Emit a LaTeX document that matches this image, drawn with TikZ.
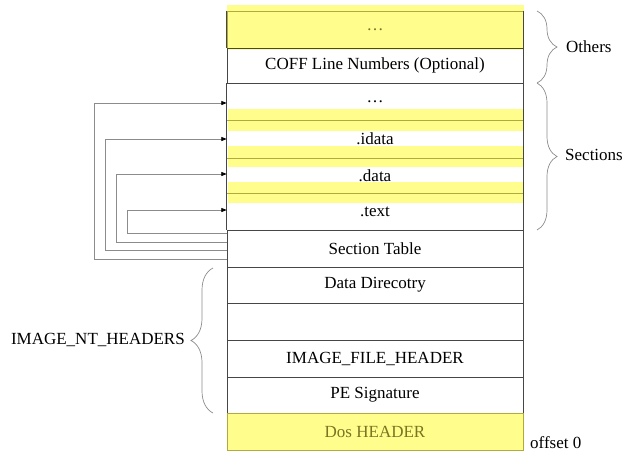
\documentclass[tikz,border=0pt]{standalone}
\usepackage{fontspec}
\setmainfont{Liberation Serif}
\usetikzlibrary{decorations.pathreplacing,arrows.meta,calc}
\definecolor{hlyellow}{RGB}{255,253,140}
\definecolor{olive}{RGB}{175,172,60}
\definecolor{olivetext}{RGB}{120,117,35}
\definecolor{boxline}{RGB}{70,70,70}
\definecolor{connline}{RGB}{140,140,140}
\begin{document}
\begin{tikzpicture}[x=1pt,y=1pt,
  every node/.style={font=\fontsize{17}{20}\selectfont},
  row/.style={draw=boxline,line width=0.8pt,rectangle,inner sep=0pt,minimum width=296pt},
  secrow/.style={rectangle,inner sep=0pt,minimum width=296pt},
  yrow/.style={draw=olive,fill=hlyellow,line width=0.8pt,rectangle,inner sep=0pt,minimum width=296pt,text=olivetext},
  band/.style={fill=hlyellow,draw=none},
  bandline/.style={draw=olive,line width=0.8pt},
  conn/.style={draw=connline,line width=0.8pt,-{Triangle[length=5.5pt,width=4pt,color=black]}},
  brc/.style={draw=connline,line width=0.7pt,decorate,decoration={brace,amplitude=20pt}},
  lbl/.style={inner sep=0pt}
]
\useasboundingbox (0,0) rectangle (624,-453);

% yellow backgrounds
\fill[band] (227,-5) rectangle (524,-50);
\fill[band] (228,-109) rectangle (524,-131);
\fill[band] (228,-146) rectangle (524,-167);
\fill[band] (228,-182) rectangle (524,-203);

% rows
\node[yrow,minimum height=37pt,fill=none] (oth) at (375,-29.5) {\ldots};
\draw[boxline,line width=0.8pt] (oth.north west) -- (oth.south west) (oth.north east) -- (oth.south east);
\node[row,minimum height=35pt] (coff) at (375,-65.5) {COFF Line Numbers (Optional)};
\node[secrow,minimum height=37pt] (secdots) at (375,-101.5) {\ldots};
\node[secrow,minimum height=38pt] (idata) at (375,-139) {.idata};
\node[secrow,minimum height=35pt] (data) at (375,-175.5) {.data};
\node[secrow,minimum height=37pt] (text) at (375,-211.5) {.text};
\node[row,minimum height=37pt] (st) at (375,-248.5) {Section Table};
\node[row,minimum height=36pt] (dd) at (375,-285) {Data Direcotry};
\node[row,minimum height=37pt] (empty) at (375,-321.5) {};
\node[row,minimum height=37pt] (ifh) at (375,-358.5) {IMAGE\_FILE\_HEADER};
\node[row,minimum height=36pt] (pes) at (375,-395) {PE Signature};
\node[yrow,minimum height=37pt] (dos) at (375,-431.5) {Dos HEADER};

% sections frame and band lines
\draw[boxline,line width=0.8pt] (coff.south west) -- (st.north west);
\draw[boxline,line width=0.8pt] (coff.south east) -- (st.north east);
\draw[bandline] (secdots.south west) -- (secdots.south east);
\draw[bandline] (idata.south west) -- (idata.south east);
\draw[bandline] (data.south west) -- (data.south east);

% connectors from the section table
\draw[conn] ([yshift=15.5pt]st.west) -- ++(-99,0) |- ([yshift=1.5pt]text.west);
\draw[conn] ([yshift=6.5pt]st.west) -- ++(-110,0) |- ([yshift=1.5pt]data.west);
\draw[conn] ([yshift=-1.5pt]st.west) -- ++(-121,0) |- (idata.west);
\draw[conn] ([yshift=-10.5pt]st.west) -- ++(-132,0) |- ([yshift=-1.5pt]secdots.west);

% braces
\draw[brc] (537,-11) -- (537,-83);
\draw[brc] (537,-83) -- (537,-230);
\draw[brc,decoration={brace,amplitude=22pt}] (213,-413) -- (213,-268);

\node[lbl,anchor=west] (others) at (566,-47) {Others};
\node[lbl,anchor=west] (sections) at (565,-155) {Sections};
\node[lbl,anchor=east] (nt) at (185,-340) {IMAGE\_NT\_HEADERS};
\node[lbl,anchor=west] (off) at (530,-443) {offset 0};
\end{tikzpicture}
\end{document}
